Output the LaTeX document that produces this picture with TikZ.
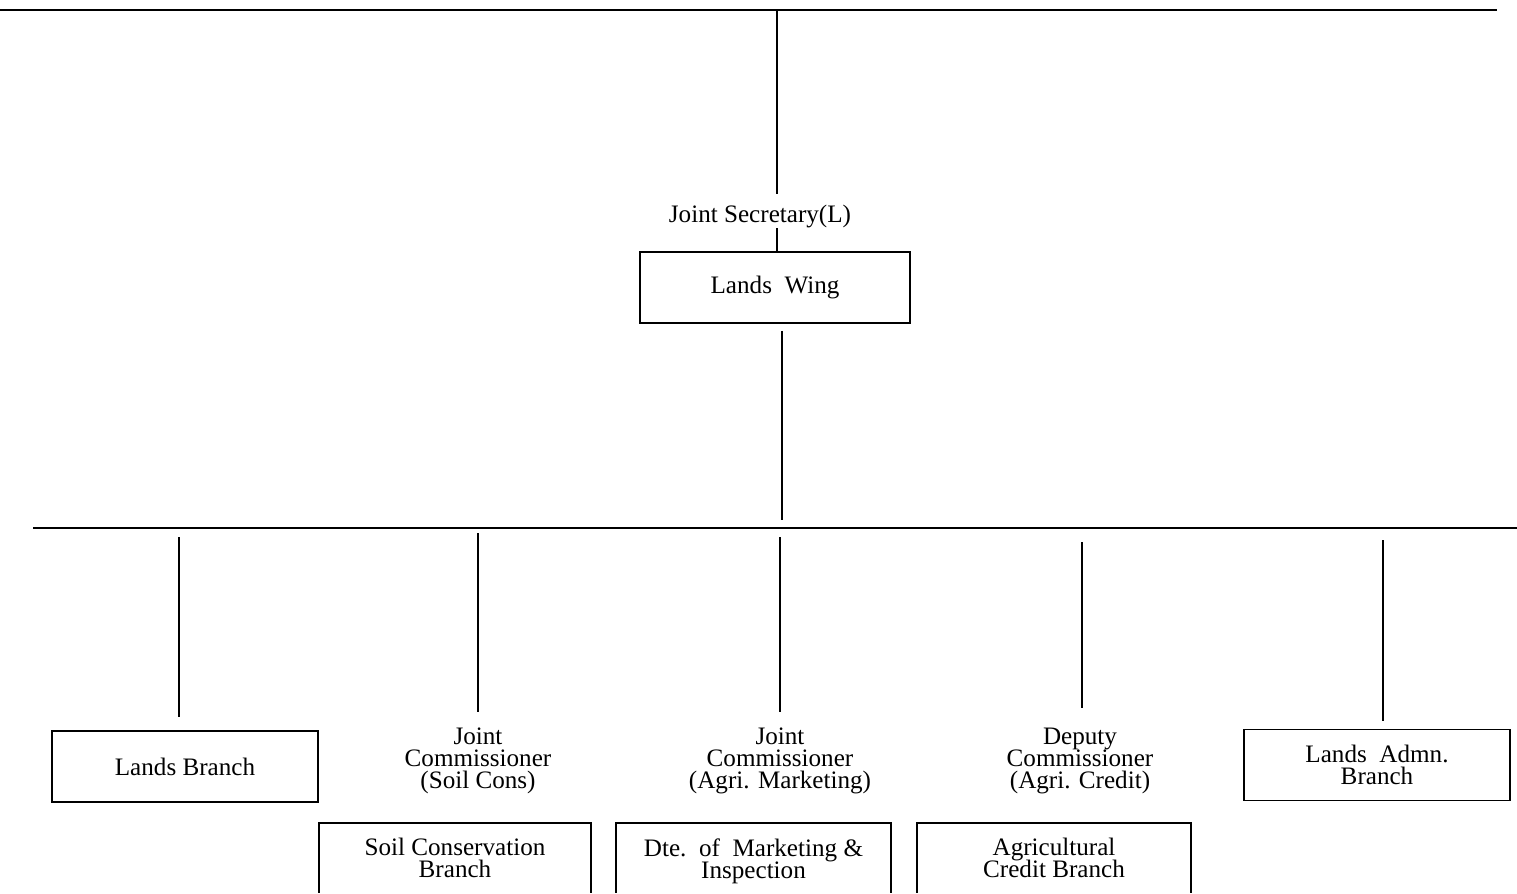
\documentclass[tikz,border=0pt]{standalone}
\usepackage{fontspec}
\setmainfont{Liberation Serif}
\begin{document}
\begin{tikzpicture}[x=0.02cm,y=-0.02cm,line width=1.1pt,
    every node/.style={font={\fontsize{14.3}{12.5}\selectfont\lineskiplimit=-20pt},align=center,inner sep=0pt},
    wingbox/.style={draw,minimum height=1.42cm},
    openbox/.style={minimum height=1.36cm}]
    \useasboundingbox (0,0) rectangle (1517,893);
    \clip (0,0) rectangle (1517,893);
    % bars
    \coordinate (topL) at (0,10);
    \coordinate (topR) at (1497,10);
    \draw (topL) -- (topR);
    \coordinate (midL) at (33,528);
    \coordinate (midR) at (1517,528);
    \draw (midL) -- (midR);%
    % top of the chart
    \node (js) at (760,216) {Joint Secretary(L)};
    \node[wingbox,minimum width=5.4cm] (lw) at (775,287.5) {Lands\ \ Wing};
    \coordinate (jsdrop) at (777,10);
    \coordinate (lwdrop) at (782,528);
    \draw[shorten >=0.2cm] (jsdrop) -- (js.north -| jsdrop);
    \draw (js.south -| jsdrop) -- (lw.north -| jsdrop);
    \draw[shorten <=0.14cm,shorten >=0.16cm] (lw.south -| lwdrop) -- (lwdrop);%
    % second row
    \node[wingbox,minimum width=5.32cm] (lb) at (185,766.5) {Lands Branch};
    \node (jcsc) at (478,761) {Joint\\Commissioner\\(Soil Cons)};
    \node (jcam) at (780,761) {Joint\\Commissioner\\(Agri. Marketing)};
    \node (dcac) at (1080,761) {Deputy\\Commissioner\\(Agri. Credit)};
    \node[wingbox,minimum width=5.32cm] (lab) at (1377,765) {Lands\ \ Admn.\\Branch};%
    \coordinate (d1) at (179,528);
    \coordinate (d2) at (478,528);
    \coordinate (d3) at (780,528);
    \coordinate (d4) at (1082,528);
    \coordinate (d5) at (1383,528);
    \draw[shorten <=0.18cm,shorten >=0.26cm] (d1) -- (lb.north -| d1);
    \draw[shorten <=0.1cm,shorten >=0.3cm] (d2) -- (jcsc.north -| d2);
    \draw[shorten <=0.18cm,shorten >=0.3cm] (d3) -- (jcam.north -| d3);
    \draw[shorten <=0.28cm,shorten >=0.38cm] (d4) -- (dcac.north -| d4);
    \draw[shorten <=0.24cm,shorten >=0.16cm] (d5) -- (lab.north -| d5);%
    % third row
    \node[openbox,minimum width=5.4cm] (scb) at (455,858) {Soil Conservation\\Branch};
    \node[openbox,minimum width=5.46cm] (dmi) at (753.5,861) {Dte.\ \ of\ \ Marketing \&\\Inspection};
    \node[openbox,minimum width=5.44cm] (acb) at (1054,858) {Agricultural\\Credit Branch};
    \draw (scb.south west) -- (scb.north west) -- (scb.north east) -- (scb.south east);
    \draw (dmi.south west |- scb.south) -- (dmi.north west |- scb.north) -- (dmi.north east |- scb.north) -- (dmi.south east |- scb.south);
    \draw (acb.south west) -- (acb.north west) -- (acb.north east) -- (acb.south east);%
\end{tikzpicture}
\end{document}
